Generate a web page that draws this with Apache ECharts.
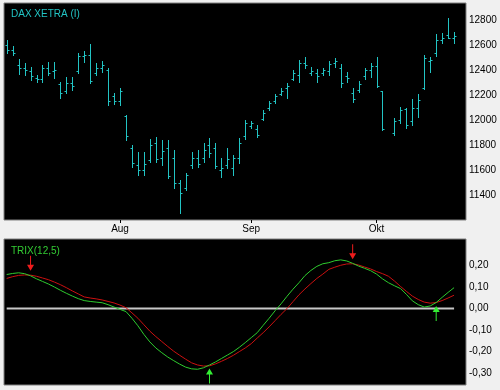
<!DOCTYPE html>
<html><head><meta charset="utf-8">
<script src="https://cdn.jsdelivr.net/npm/echarts@6/dist/echarts.min.js"></script>
<style>html,body{margin:0;padding:0;background:#f0f0f0;}#c{width:500px;height:390px;}</style>
</head><body><div id="c"></div>
<script>
// Trading days (Oct 3 = holiday, empty slot)
const dates = [
 '2019-07-05','2019-07-08','2019-07-09','2019-07-10','2019-07-11','2019-07-12','2019-07-15','2019-07-16','2019-07-17','2019-07-18',
 '2019-07-19','2019-07-22','2019-07-23','2019-07-24','2019-07-25','2019-07-26','2019-07-29','2019-07-30','2019-07-31',
 '2019-08-01','2019-08-02','2019-08-05','2019-08-06','2019-08-07','2019-08-08','2019-08-09','2019-08-12','2019-08-13','2019-08-14',
 '2019-08-15','2019-08-16','2019-08-19','2019-08-20','2019-08-21','2019-08-22','2019-08-23','2019-08-26','2019-08-27','2019-08-28',
 '2019-08-29','2019-08-30',
 '2019-09-02','2019-09-03','2019-09-04','2019-09-05','2019-09-06','2019-09-09','2019-09-10','2019-09-11','2019-09-12','2019-09-13',
 '2019-09-16','2019-09-17','2019-09-18','2019-09-19','2019-09-20','2019-09-23','2019-09-24','2019-09-25','2019-09-26','2019-09-27',
 '2019-09-30',
 '2019-10-01','2019-10-02','2019-10-03','2019-10-04','2019-10-07','2019-10-08','2019-10-09','2019-10-10','2019-10-11','2019-10-14',
 '2019-10-15','2019-10-16','2019-10-17','2019-10-18'
];
const monthNames = ['Jan','Feb','Mär','Apr','Mai','Jun','Jul','Aug','Sep','Okt','Nov','Dez'];

const high = [12640,12590,12486,12453,12421,12360,12440,12466,12461,12306,12346,12346,12533,12554,12608,12453,12474,12413,12213,12253,
 12040,11800,11746,11746,11845,11866,11840,11840,11760,11520,11573,11746,11760,11813,11853,11818,11693,11773,11720,11853,
 12000,11994,11960,12080,12154,12208,12253,12293,12400,12480,12506,12426,12405,12413,12472,12493,12445,12386,12258,12312,
 12413,12453,12506,12232,null,12018,12106,12098,12168,12205,12520,12506,12685,12693,12818,12706];
const low = [12536,12520,12366,12360,12320,12306,12306,12360,12333,12173,12213,12240,12373,12466,12293,12360,12386,12120,12128,12120,
 11840,11626,11560,11560,11666,11666,11640,11533,11453,11253,11440,11613,11621,11666,11706,11613,11546,11613,11560,11653,
 11845,11933,11861,12000,12080,12133,12200,12173,12320,12306,12413,12360,12306,12360,12360,12426,12266,12306,12141,12221,
 12328,12346,12266,11920,null,11880,11973,11933,11960,12026,12248,12386,12514,12613,12658,12613];
const open = [12600,12560,12440,12420,12390,12340,12330,12420,12390,12290,12230,12300,12390,12510,12520,12380,12420,12400,12190,12150,
 12030,11780,11640,11600,11680,11820,11700,11780,11700,11500,11460,11640,11700,11700,11800,11780,11600,11640,11620,11700,
 11870,11950,11930,12010,12100,12150,12210,12260,12330,12360,12460,12380,12380,12380,12390,12460,12420,12350,12220,12240,
 12350,12400,12430,12230,null,11900,12000,12090,11990,12100,12260,12470,12540,12640,12680,12660];
const close = [12560,12540,12420,12400,12350,12330,12420,12380,12400,12220,12300,12270,12510,12520,12310,12420,12440,12150,12150,12230,
 11870,11660,11600,11650,11800,11690,11750,11550,11500,11420,11560,11700,11650,11760,11740,11630,11620,11690,11700,11820,
 11980,11980,11880,12060,12140,12190,12230,12270,12380,12460,12440,12390,12350,12400,12450,12470,12300,12340,12170,12290,
 12400,12430,12270,11930,null,11990,12080,11960,12100,12160,12500,12480,12640,12660,12660,12670];

const trix = [0.158,0.163,0.166,0.162,0.152,0.138,0.126,0.114,0.100,0.085,0.071,0.058,0.046,0.037,0.033,0.030,0.027,0.018,0.007,-0.004,
 -0.014,-0.045,-0.080,-0.120,-0.155,-0.183,-0.205,-0.225,-0.242,-0.258,-0.272,-0.280,-0.282,-0.275,-0.262,-0.248,-0.232,-0.216,-0.200,-0.180,
 -0.158,-0.135,-0.112,-0.078,-0.045,-0.010,0.022,0.057,0.090,0.120,0.153,0.177,0.196,0.208,0.213,0.222,0.226,0.221,0.210,0.197,
 0.187,0.176,0.160,0.138,0.120,0.106,0.093,0.066,0.036,0.018,0.007,0.012,0.028,0.052,0.075,0.097];
const signal = [0.140,0.148,0.154,0.156,0.155,0.150,0.142,0.134,0.123,0.111,0.097,0.082,0.068,0.054,0.049,0.045,0.040,0.033,0.026,0.016,
 0.004,-0.020,-0.045,-0.075,-0.105,-0.130,-0.153,-0.176,-0.198,-0.217,-0.235,-0.252,-0.262,-0.267,-0.266,-0.257,-0.245,-0.232,-0.217,-0.200,
 -0.183,-0.163,-0.137,-0.112,-0.085,-0.056,-0.027,0.000,0.032,0.064,0.091,0.116,0.140,0.160,0.182,0.192,0.201,0.207,0.208,0.202,
 0.193,0.184,0.172,0.162,0.150,0.128,0.103,0.080,0.058,0.042,0.030,0.025,0.028,0.037,0.049,0.062];
const zeroLine = dates.map(() => 0);
const sellSignals = [4, 58];
const buySignals = [34, 72];

const priceTicks = [11400,11600,11800,12000,12200,12400,12600,12800];
const trixTicks = [-0.3,-0.2,-0.1,0,0.1,0.2];

// derived
const monthStarts = [];
for (let i = 1; i < dates.length; i++) {
  if (dates[i].slice(5,7) !== dates[i-1].slice(5,7)) monthStarts.push(i);
}
const ohlc = dates.map((d,i) => high[i] == null ? null : [i, open[i], close[i], low[i], high[i]]).filter(Boolean);

const FONT = 'Liberation Sans';
const CYAN = '#22c4c4';
const chart = echarts.init(document.getElementById('c'), null, {renderer:'canvas'});
const xBase = {type:'value', min:-0.45, max:77.0, splitLine:{show:false}, axisLine:{show:false}};
chart.setOption({
  animation:false,
  backgroundColor:'#f0f0f0',
  title:[
    {text:'DAX XETRA (I)', left:6, top:4, textStyle:{color:CYAN, fontSize:10, fontWeight:'normal', fontFamily:FONT}},
    {text:'TRIX(12,5)', left:6, top:241, textStyle:{color:'#33cc33', fontSize:10, fontWeight:'normal', fontFamily:FONT}}
  ],
  grid:[
    {left:4, right:34, top:3, height:217, show:true, backgroundColor:'#000', borderColor:'#808080', borderWidth:1},
    {left:4, right:34, top:239, height:146, show:true, backgroundColor:'#000', borderColor:'#808080', borderWidth:1}
  ],
  xAxis:[
    Object.assign({}, xBase, {gridIndex:0,
      axisTick:{show:true, customValues:monthStarts, length:3, lineStyle:{color:'#000'}},
      axisLabel:{show:true, customValues:monthStarts, margin:4, color:'#000', fontSize:10, fontFamily:FONT,
        formatter:v => monthNames[parseInt(dates[Math.round(v)].slice(5,7),10)-1]}}),
    Object.assign({}, xBase, {gridIndex:1, axisTick:{show:false}, axisLabel:{show:false}})
  ],
  yAxis:[
    {gridIndex:0, type:'value', position:'right', min:11200, max:12936, splitLine:{show:false}, axisLine:{show:false}, axisTick:{show:false},
     axisLabel:{customValues:priceTicks, margin:3, color:'#000', fontSize:10, fontFamily:FONT, formatter:v => String(v)}},
    {gridIndex:1, type:'value', position:'right', min:-0.355, max:0.323, splitLine:{show:false}, axisLine:{show:false}, axisTick:{show:false},
     axisLabel:{customValues:trixTicks, margin:3, color:'#000', fontSize:10, fontFamily:FONT,
       formatter:v => v.toFixed(2).replace('.', ',')}}
  ],
  series:[
    {type:'custom', xAxisIndex:0, yAxisIndex:0, data:ohlc, clip:true,
     renderItem:(params, api) => {
       const i = api.value(0);
       const pO = api.coord([i, api.value(1)]);
       const pC = api.coord([i, api.value(2)]);
       const pL = api.coord([i, api.value(3)]);
       const pH = api.coord([i, api.value(4)]);
       const x = Math.round(pL[0]) + 0.5;
       const st = {stroke:CYAN, lineWidth:1};
       return {type:'group', children:[
         {type:'line', shape:{x1:x, y1:Math.round(pH[1]), x2:x, y2:Math.round(pL[1])+1}, style:st},
         {type:'line', shape:{x1:x-2, y1:Math.round(pO[1])+0.5, x2:x, y2:Math.round(pO[1])+0.5}, style:st},
         {type:'line', shape:{x1:x, y1:Math.round(pC[1])+0.5, x2:x+2, y2:Math.round(pC[1])+0.5}, style:st}
       ]};
     }},
    {type:'line', xAxisIndex:1, yAxisIndex:1, data:zeroLine.map((v,i)=>[i,v]), symbol:'none',
     lineStyle:{color:'#c8c8c8', width:2}, z:1},
    {type:'line', xAxisIndex:1, yAxisIndex:1, data:signal.map((v,i)=>[i,v]), symbol:'none',
     lineStyle:{color:'#cc1010', width:1}, z:2,
     markPoint:{symbol:'path://M3,0 L4,0 L4,9 L7,9 L3.5,15 L0,9 L3,9 Z', symbolSize:[7,15], symbolKeepAspect:false,
       itemStyle:{color:'#ee1c1c'}, label:{show:false},
       data:sellSignals.map(i => ({coord:[i, signal[i]], symbolOffset:[0,-12]}))}},
    {type:'line', xAxisIndex:1, yAxisIndex:1, data:trix.map((v,i)=>[i,v]), symbol:'none',
     lineStyle:{color:'#2ecc2e', width:1}, z:3,
     markPoint:{symbol:'path://M3.5,0 L7,6 L4,6 L4,15 L3,15 L3,6 L0,6 Z', symbolSize:[7,15], symbolKeepAspect:false,
       itemStyle:{color:'#33ee33'}, label:{show:false},
       data:buySignals.map(i => ({coord:[i, trix[i]], symbolOffset:[0,11]}))}}
  ]
});
</script></body></html>
